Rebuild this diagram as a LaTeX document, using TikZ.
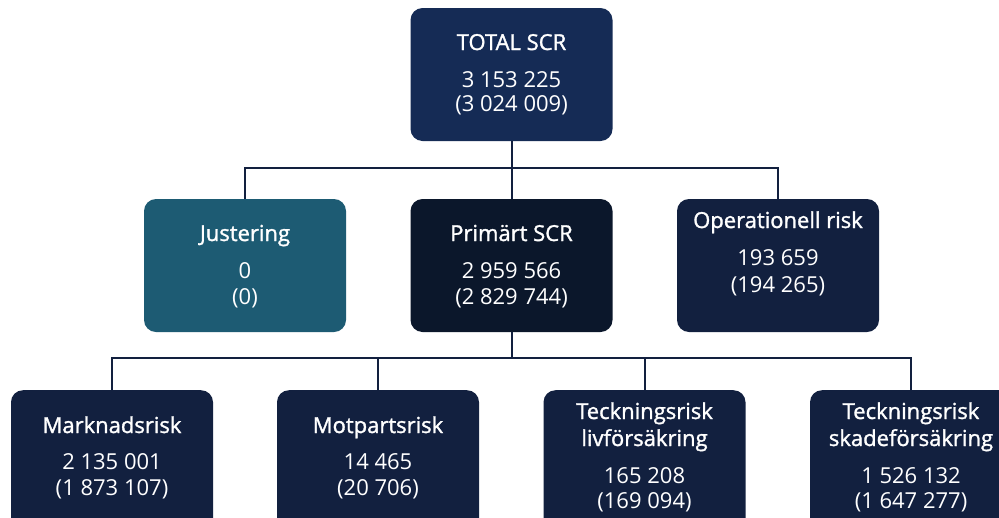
\documentclass[tikz,border=0pt]{standalone}
\usepackage{fontspec}
\setmainfont{Open Sans}
\newfontfamily\titlefont[FakeBold=1.4]{Open Sans}
\definecolor{cTotal}{HTML}{152B55}
\definecolor{cPrim}{HTML}{0B172B}
\definecolor{cBox}{HTML}{12203F}
\definecolor{cJust}{HTML}{1D5B73}
\definecolor{cLine}{HTML}{12203F}
\tikzset{
  box/.style={rectangle, rounded corners=12pt, draw=none, minimum width=202pt, minimum height=133pt, inner sep=0pt},
  tbox/.style={box, minimum height=150pt},
  txt/.style={anchor=base, text=white, font=\fontsize{22}{26}\selectfont, inner sep=0pt},
  ttl/.style={txt, font=\titlefont\fontsize{22}{26}\selectfont},
  conn/.style={draw=cLine, line width=2pt}
}
\begin{document}
\begin{tikzpicture}[x=1pt,y=-1pt]
\useasboundingbox (0,0) rectangle (999,517);
% boxes
\node[box, fill=cTotal] (total) at (511.5,74.5) {};
\node[box, fill=cJust] (just) at (245,265.5) {};
\node[box, fill=cPrim] (prim) at (511.5,265.5) {};
\node[box, fill=cBox] (oper) at (778,265.5) {};
\node[tbox, fill=cBox, anchor=north] (mark) at (112,390) {};
\node[tbox, fill=cBox, anchor=north] (motp) at (378,390) {};
\node[tbox, fill=cBox, anchor=north] (liv) at (644.5,390) {};
\node[tbox, fill=cBox, anchor=north] (skade) at (911,390) {};
% connectors
\coordinate (b1) at (511.5,168);
\coordinate (b2) at (511.5,358);
\draw[conn] (total.south) -- (b1);
\draw[conn] (b1) -| (just.north);
\draw[conn] (b1) -| (oper.north);
\draw[conn] (b1) -- (prim.north);
\draw[conn] (prim.south) -- (b2);
\draw[conn] (b2) -| (mark.north);
\draw[conn] (b2) -| (motp.north);
\draw[conn] (b2) -| (liv.north);
\draw[conn] (b2) -| (skade.north);
% texts
\node[ttl] (t1) at (511.5,50) {TOTAL SCR};
\node[txt] (t2) at (511.5,87) {3 153 225};
\node[txt] (t3) at (511.5,111) {(3 024 009)};
\node[ttl] (j1) at (245,241) {Justering};
\node[txt] (j2) at (245,278) {0};
\node[txt] (j3) at (245,304) {(0)};
\node[ttl] (p1) at (511.5,241) {Primärt SCR};
\node[txt] (p2) at (511.5,278) {2 959 566};
\node[txt] (p3) at (511.5,304) {(2 829 744)};
\node[ttl] (o1) at (778,228) {Operationell risk};
\node[txt] (o2) at (778,265) {193 659};
\node[txt] (o3) at (778,292) {(194 265)};
\node[ttl] (m1) at (112,433) {Marknadsrisk};
\node[txt] (m2) at (112,469) {2 135 001};
\node[txt] (m3) at (112,495) {(1 873 107)};
\node[ttl] (mp1) at (378,433) {Motpartsrisk};
\node[txt] (mp2) at (378,469) {14 465};
\node[txt] (mp3) at (378,495) {(20 706)};
\node[ttl] (l1) at (644.5,419) {Teckningsrisk};
\node[ttl] (l2) at (644.5,446) {livförsäkring};
\node[txt] (l3) at (644.5,483) {165 208};
\node[txt] (l4) at (644.5,508) {(169 094)};
\node[ttl] (s1) at (911,419) {Teckningsrisk};
\node[ttl] (s2) at (911,446) {skadeförsäkring};
\node[txt] (s3) at (911,483) {1 526 132};
\node[txt] (s4) at (911,508) {(1 647 277)};
\end{tikzpicture}
\end{document}
